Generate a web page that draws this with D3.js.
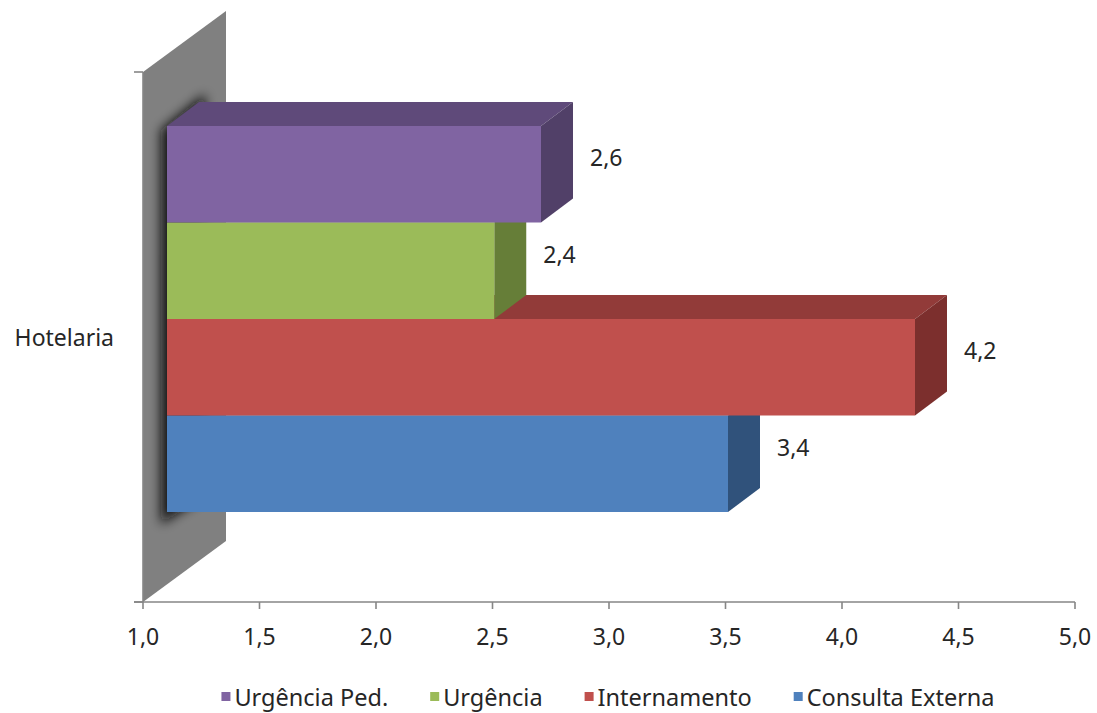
<!DOCTYPE html>
<html>
<head>
<meta charset="utf-8">
<script src="https://cdn.jsdelivr.net/npm/d3@7"></script>
<style>
  html, body { margin: 0; padding: 0; background: #fff; }
  svg { display: block; font-family: "Noto Sans", "Open Sans", sans-serif; }
</style>
</head>
<body>
<svg id="chart" width="1097" height="713"></svg>
<script>
// Average rating for "Hotelaria" by service (3D clustered horizontal bars)
const category = "Hotelaria";
const series = ["Urgência Ped.", "Urgência", "Internamento", "Consulta Externa"];
const values = [2.6, 2.4, 4.2, 3.4];
const tickValues = [1.0, 1.5, 2.0, 2.5, 3.0, 3.5, 4.0, 4.5, 5.0];
const frontColors = ["#8064A2", "#9BBB59", "#C0504D", "#4F81BD"];
const topColors   = ["#5F4A7A", "#76913F", "#923B39", "#3A6194"];
const sideColors  = ["#514068", "#667E38", "#7C2F2D", "#30527B"];

const fmt = v => d3.format(".1f")(v).replace(".", ",");

const svg = d3.select("#chart");
const textColor = "#262626";
const axisColor = "#868686";
const fontSize = 23;

// Projection of the depth direction
const wallDepth = { dx: 83, dy: -61 };
const barDepth = { dx: 32, dy: -24 };

// Scales: axis plane at the front of the floor, bars in a plane set back in depth
const xAxis = d3.scaleLinear().domain([1, 5]).range([143, 1075]);
const xBar = d3.scaleLinear().domain([1, 5]).range([167, 1102]);
const yBand = d3.scaleBand().domain(series).range([126, 512]).padding(0);
const yPlot = { top: 72, bottom: 602 };

const defs = svg.append("defs");
defs.append("filter").attr("id", "soft")
  .attr("x", "-50%").attr("y", "-50%").attr("width", "200%").attr("height", "200%")
  .append("feGaussianBlur").attr("stdDeviation", 6);

// Side wall (value-axis origin plane)
const x0 = xAxis(1);
const wallPts = [
  [x0, yPlot.top],
  [x0 + wallDepth.dx, yPlot.top + wallDepth.dy],
  [x0 + wallDepth.dx, yPlot.bottom + wallDepth.dy],
  [x0, yPlot.bottom]
];
const poly = pts => pts.map(p => p.join(",")).join(" ");
defs.append("clipPath").attr("id", "wallClip")
  .append("polygon").attr("points", poly(wallPts));

svg.append("polygon")
  .attr("points", poly(wallPts))
  .attr("fill", "#808080");

// Soft shadow where the bar block meets the wall
const bx0 = xBar(1);
const yTop = yBand.range()[0], yBot = yBand.range()[1];
svg.append("g").attr("clip-path", "url(#wallClip)")
  .append("polygon")
  .attr("points", poly([
    [bx0 - 6, yTop + 4],
    [bx0 + barDepth.dx + 6, yTop + barDepth.dy - 8],
    [bx0 + barDepth.dx + 6, yBot + barDepth.dy + 8],
    [bx0 - 6, yBot + 12]
  ]))
  .attr("fill", "#0d0d0d")
  .attr("opacity", 0.95)
  .attr("filter", "url(#soft)");

// Value axis (floor front edge) with ticks
const axisG = svg.append("g");
axisG.append("line")
  .attr("x1", x0 - 9).attr("x2", xAxis(5))
  .attr("y1", yPlot.bottom).attr("y2", yPlot.bottom)
  .attr("stroke", axisColor).attr("stroke-width", 1.6);
axisG.selectAll("line.tick").data(tickValues).join("line")
  .attr("class", "tick")
  .attr("x1", d => xAxis(d)).attr("x2", d => xAxis(d))
  .attr("y1", yPlot.bottom).attr("y2", yPlot.bottom + 7)
  .attr("stroke", axisColor).attr("stroke-width", 1.6);
axisG.selectAll("text").data(tickValues).join("text")
  .attr("x", d => xAxis(d)).attr("y", 645)
  .attr("text-anchor", "middle")
  .attr("font-size", fontSize).attr("fill", textColor)
  .text(d => fmt(d));

// Category axis (wall front edge) with ticks
axisG.append("line")
  .attr("x1", x0).attr("x2", x0)
  .attr("y1", yPlot.top).attr("y2", yPlot.bottom)
  .attr("stroke", axisColor).attr("stroke-width", 1.6);
axisG.selectAll("line.ytick").data([yPlot.top, yPlot.bottom]).join("line")
  .attr("class", "ytick")
  .attr("x1", x0 - 9).attr("x2", x0)
  .attr("y1", d => d).attr("y2", d => d)
  .attr("stroke", axisColor).attr("stroke-width", 1.6);
axisG.append("text")
  .attr("x", 114).attr("y", 346)
  .attr("text-anchor", "end")
  .attr("font-size", fontSize).attr("fill", textColor)
  .text(category);

// Bars: drawn bottom-up so the bar above covers the hidden faces below
const bars = series.map((s, i) => ({ s, v: values[i], i }));
const barG = svg.append("g");
bars.slice().reverse().forEach(d => {
  const xa = xBar(1), xb = xBar(d.v);
  const y = yBand(d.s), h = yBand.bandwidth();
  const { dx, dy } = barDepth;
  const g = barG.append("g");
  g.append("polygon")
    .attr("points", poly([[xa, y], [xb, y], [xb + dx, y + dy], [xa + dx, y + dy]]))
    .attr("fill", topColors[d.i]);
  g.append("polygon")
    .attr("points", poly([[xb, y], [xb + dx, y + dy], [xb + dx, y + h + dy], [xb, y + h]]))
    .attr("fill", sideColors[d.i]);
  g.append("rect")
    .attr("x", xa).attr("y", y)
    .attr("width", xb - xa).attr("height", h)
    .attr("fill", frontColors[d.i]);
});

// Value labels beside the bar ends
svg.append("g").selectAll("text").data(bars).join("text")
  .attr("x", d => xBar(d.v) + barDepth.dx + 17)
  .attr("y", d => yBand(d.s) + yBand.bandwidth() / 2 + barDepth.dy / 2 + 4)
  .attr("font-size", fontSize).attr("fill", textColor)
  .text(d => fmt(d.v));

// Legend centred under the plot
const legend = svg.append("g");
const items = legend.selectAll("g").data(series).join("g");
items.append("rect")
  .attr("width", 9).attr("height", 9)
  .attr("y", 692)
  .attr("fill", (d, i) => frontColors[i]);
items.append("text")
  .attr("x", 13).attr("y", 706)
  .attr("font-size", 23.5).attr("fill", textColor)
  .text(d => d);
let cursor = 0;
const offsets = [];
items.each(function () {
  const w = d3.select(this).select("text").node().getComputedTextLength();
  offsets.push(cursor);
  cursor += 13 + w + 42;
});
const totalW = cursor - 42;
const startX = 608 - totalW / 2;
items.attr("transform", (d, i) => `translate(${startX + offsets[i]},0)`);
</script>
</body>
</html>
